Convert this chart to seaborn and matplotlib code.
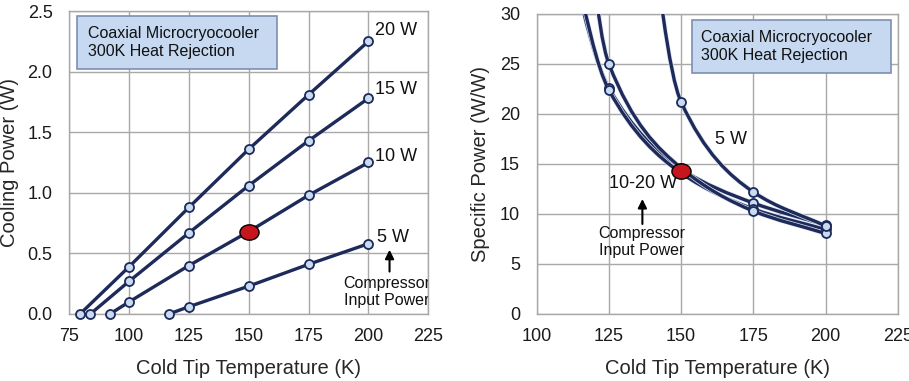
import numpy as np
import pandas as pd
import matplotlib
matplotlib.use("Agg")
import matplotlib.pyplot as plt
import matplotlib.patheffects as pe
import seaborn as sns
from matplotlib.path import Path
from matplotlib.patches import PathPatch, Rectangle
from matplotlib.transforms import Affine2D

# ---- data ----
# left panel: cooling power (W) vs cold tip temperature (K), per compressor input power
series_names = ["20 W", "15 W", "10 W", "5 W"]
temp_20w = [79.5, 100, 125, 150, 175, 200]
cool_20w = [0.0, 0.39, 0.88, 1.36, 1.81, 2.25]
temp_15w = [83.8, 100, 125, 150, 175, 200]
cool_15w = [0.0, 0.27, 0.67, 1.06, 1.43, 1.78]
temp_10w = [92.0, 100, 125, 150, 175, 200]
cool_10w = [0.0, 0.10, 0.40, 0.68, 0.98, 1.25]
temp_5w = [116.6, 125, 150, 175, 200]
cool_5w = [0.0, 0.06, 0.23, 0.41, 0.58]

# right panel: specific power (W/W); first values of each series are off the chart
sp_temp = [100, 125, 150, 175, 200]
sp_20w = [51.0, 22.6, 14.5, 11.1, 8.9]
sp_15w = [55.0, 22.4, 14.1, 10.5, 8.45]
sp_10w = [104.0, 25.0, 14.6, 10.3, 8.05]
sp_temp_5w = [125, 150, 175, 200]
sp_5w = [80.0, 21.2, 12.2, 8.8]

# highlighted design point
hl_temp = [150]
hl_cool = [0.68]
hl_sp = [14.3]

box_text = "Coaxial Microcryocooler\n300K Heat Rejection"

# ---- style ----
sns.set_style("white")
plt.rcParams["font.family"] = ["Liberation Sans", "DejaVu Sans"]

navy = "#1d2a5a"
marker_fill = "#c9dbf1"
grid_col = "#a8a8a8"
red = "#c4161c"

fig = plt.figure(figsize=(9.09, 3.81), dpi=100)
ax1 = fig.add_axes([0.0762, 0.1759, 0.395, 0.7952])
ax2 = fig.add_axes([0.5904, 0.1759, 0.3972, 0.7874])

ellipse = Path.unit_circle().transformed(Affine2D().scale(1.0, 0.8))


def monotone_path(xs, ys):
    # smooth curve through the data points (monotone cubic, drawn as bezier)
    xs = np.asarray(xs, float)
    ys = np.asarray(ys, float)
    h = np.diff(xs)
    d = np.diff(ys) / h
    n = len(xs)
    m = np.zeros(n)
    m[0], m[-1] = d[0], d[-1]
    for i in range(1, n - 1):
        if d[i - 1] * d[i] > 0:
            w1 = 2 * h[i] + h[i - 1]
            w2 = h[i] + 2 * h[i - 1]
            m[i] = (w1 + w2) / (w1 / d[i - 1] + w2 / d[i])
    verts = [(xs[0], ys[0])]
    codes = [Path.MOVETO]
    for i in range(n - 1):
        verts += [(xs[i] + h[i] / 3, ys[i] + m[i] * h[i] / 3),
                  (xs[i + 1] - h[i] / 3, ys[i + 1] - m[i + 1] * h[i] / 3),
                  (xs[i + 1], ys[i + 1])]
        codes += [Path.CURVE4] * 3
    return Path(verts, codes)


def style_axes(ax):
    ax.grid(True, color=grid_col, lw=1.0)
    ax.set_axisbelow(True)
    for s in ax.spines.values():
        s.set_color(grid_col)
        s.set_linewidth(1.0)
    ax.tick_params(direction="out", length=4, width=1, color=grid_col,
                   labelsize=13, labelcolor="#1a1a1a")
    ax.tick_params(axis="x", pad=6)
    ax.tick_params(axis="y", pad=8)


def add_box(ax, x0, y0, x1, y1, tx):
    ax.add_patch(Rectangle((x0, y0), x1 - x0, y1 - y0, transform=ax.transAxes,
                           facecolor="#c6d9f0", edgecolor="#7d8fb0", lw=1.2, zorder=5))
    ax.text(tx, (y0 + y1) / 2, box_text, transform=ax.transAxes, ha="left", va="center",
            fontsize=11.5, linespacing=1.3, color="#111111", zorder=6)


def up_arrow(ax, x, y0, y1):
    ax.annotate("", xy=(x, y1), xytext=(x, y0),
                arrowprops=dict(arrowstyle="-|>", color="black", lw=1.5,
                                mutation_scale=13, shrinkA=0, shrinkB=0))


# ---- left: cooling power ----
left = [(temp_20w, cool_20w), (temp_15w, cool_15w), (temp_10w, cool_10w), (temp_5w, cool_5w)]
for (t, c) in left:
    sns.lineplot(x=t, y=c, ax=ax1, color=navy, lw=2.4, marker="o", markersize=6.5,
                 markerfacecolor=marker_fill, markeredgecolor=navy, markeredgewidth=1.3,
                 sort=False, estimator=None, clip_on=False, zorder=3)
sns.scatterplot(x=hl_temp, y=hl_cool, ax=ax1, marker=ellipse, s=190, color=red,
                edgecolor="black", linewidth=1.0, zorder=4, clip_on=False)

ax1.set_xlim(75, 225)
ax1.set_ylim(0, 2.5)
ax1.set_xticks(np.arange(75, 226, 25))
ax1.set_yticks(np.arange(0, 2.51, 0.5))
ax1.set_yticklabels([f"{v:.1f}" for v in np.arange(0, 2.51, 0.5)])
style_axes(ax1)
ax1.set_xlabel("Cold Tip Temperature (K)", fontsize=14.5, labelpad=10)
ax1.set_ylabel("Cooling Power (W)", fontsize=14.5)
ax1.yaxis.set_label_coords(-0.139, 0.5)

label_y = [2.34, 1.85, 1.30, 0.63]
label_x = [202.6, 202.8, 202.8, 203.4]
for name, lx, ly in zip(series_names, label_x, label_y):
    ax1.text(lx, ly, name, fontsize=13, ha="left", va="center", color="#111111")
up_arrow(ax1, 208.8, 0.35, 0.53)
ax1.text(207.6, 0.18, "Compressor\nInput Power", fontsize=11.5, ha="center", va="center",
         linespacing=1.15, color="#111111", clip_on=True)
add_box(ax1, 0.0206, 0.8076, 0.579, 0.9835, 0.052)

# ---- right: specific power ----
glow = [pe.Stroke(linewidth=3.4, foreground="#dfe6f2"), pe.Normal()]
right = [(sp_temp, sp_20w), (sp_temp, sp_15w), (sp_temp, sp_10w), (sp_temp_5w, sp_5w)]
for (t, s) in right:
    patch = PathPatch(monotone_path(t, s), fill=False, edgecolor=navy, lw=2.4, zorder=3)
    patch.set_path_effects(glow)
    ax2.add_patch(patch)
for (t, s) in right:
    sns.scatterplot(x=t, y=s, ax=ax2, s=42, color=marker_fill, edgecolor=navy,
                    linewidth=1.3, zorder=4)
sns.scatterplot(x=hl_temp, y=hl_sp, ax=ax2, marker=ellipse, s=190, color=red,
                edgecolor="black", linewidth=1.0, zorder=5)

ax2.set_xlim(100, 225)
ax2.set_ylim(0, 30)
ax2.set_xticks(np.arange(100, 226, 25))
ax2.set_yticks(np.arange(0, 31, 5))
style_axes(ax2)
ax2.set_xlabel("Cold Tip Temperature (K)", fontsize=14.5, labelpad=10)
ax2.set_ylabel("Specific Power (W/W)", fontsize=14.5)
ax2.yaxis.set_label_coords(-0.129, 0.5)

ax2.text(161.8, 17.4, "5 W", fontsize=13, ha="left", va="center", color="#111111")
ax2.text(136.7, 13.0, "10-20 W", fontsize=13, ha="center", va="center", color="#111111")
up_arrow(ax2, 136.6, 9.0, 11.5)
ax2.text(136.5, 7.2, "Compressor\nInput Power", fontsize=11.5, ha="center", va="center",
         linespacing=1.15, color="#111111")
add_box(ax2, 0.430, 0.803, 0.981, 0.98, 0.455)

fig.savefig("out.png", dpi=100)
